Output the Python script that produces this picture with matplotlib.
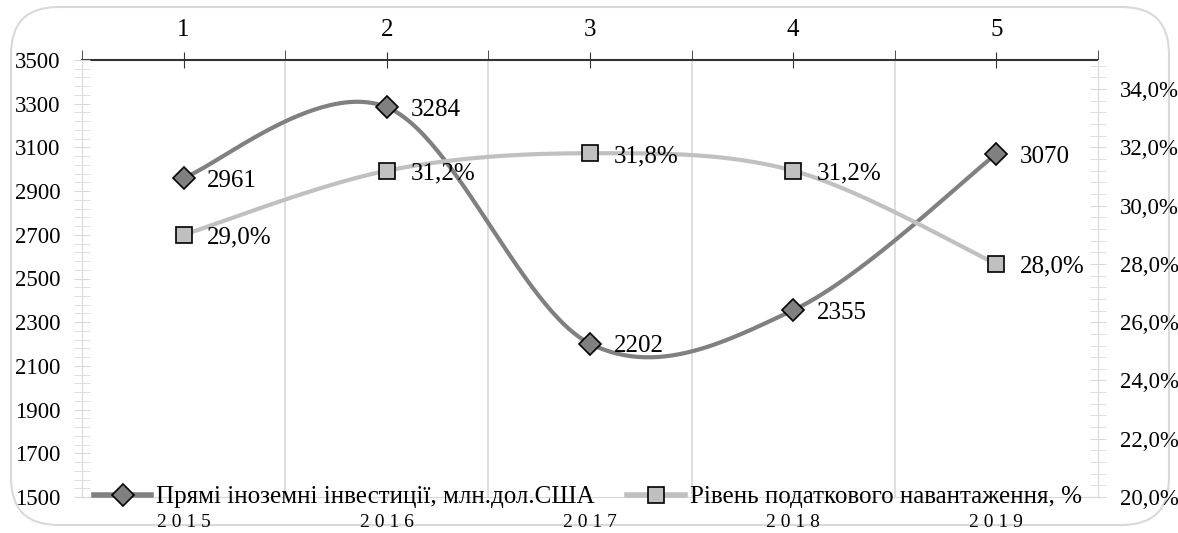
import numpy as np
import matplotlib
matplotlib.use('Agg')
import matplotlib.pyplot as plt
from matplotlib.patches import FancyBboxPatch
from matplotlib.lines import Line2D
from matplotlib.ticker import FuncFormatter

# Data
years = ['2015', '2016', '2017', '2018', '2019']
top_labels = ['1', '2', '3', '4', '5']
fdi = [2961, 3284, 2202, 2355, 3070]          # млн.дол.США
tax_burden = [29.0, 31.2, 31.8, 31.2, 28.0]   # %
fdi_name = 'Прямі іноземні інвестиції, млн.дол.США'
tax_name = 'Рівень податкового навантаження, %'

FONT = 'Liberation Serif'
plt.rcParams['font.family'] = [FONT, 'DejaVu Serif']

DARK = '#808080'
LIGHT = '#c0c0c0'
GRID = '#d9d9d9'


def smooth(x, y, n=60):
    # Catmull-Rom style bezier smoothing, like office charts do
    x = np.asarray(x, float)
    y = np.asarray(y, float)
    xs, ys = [], []
    for i in range(len(x) - 1):
        i0 = max(i - 1, 0)
        i3 = min(i + 2, len(x) - 1)
        p0 = np.array([x[i], y[i]])
        p3 = np.array([x[i + 1], y[i + 1]])
        c1 = p0 + (np.array([x[i + 1], y[i + 1]]) - np.array([x[i0], y[i0]])) / 6
        c2 = p3 - (np.array([x[i3], y[i3]]) - np.array([x[i], y[i]])) / 6
        t = np.linspace(0, 1, n)[:, None]
        pts = ((1 - t) ** 3) * p0 + 3 * ((1 - t) ** 2) * t * c1 + 3 * (1 - t) * t ** 2 * c2 + t ** 3 * p3
        xs.extend(pts[:, 0])
        ys.extend(pts[:, 1])
    return np.array(xs), np.array(ys)


W, H = 1178, 533
fig = plt.figure(figsize=(W / 100, H / 100), dpi=100)

# rounded chart frame
frame = FancyBboxPatch((11 / W, 8 / H), 1158 / W, 518 / H,
                       boxstyle='round,pad=0,rounding_size=0.04',
                       transform=fig.transFigure, facecolor='none',
                       edgecolor=GRID, linewidth=1.5, mutation_aspect=W / H, zorder=-1)
fig.patches.append(frame)

ax = fig.add_axes([82 / W, 1 - 497 / H, 1016 / W, 437 / H])
ax.patch.set_alpha(0)
x = np.arange(len(years))
ax.set_xlim(-0.5, 4.5)
ax.set_ylim(1500, 3500)

# vertical grid at category boundaries
for b in x[:-1] + 0.5:
    ax.axvline(b, color=GRID, lw=1.2, zorder=0)

ax2 = ax.twinx()
ax2.set_ylim(20, 35)

# series
sx, sy = smooth(x, fdi)
ax.plot(sx, sy, color=DARK, lw=3, solid_capstyle='round', zorder=3)
ax.plot(x, fdi, ls='none', marker='D', ms=11, mfc=DARK, mec='black', mew=1.2, zorder=4)
tx, ty = smooth(x, tax_burden)
ax2.plot(tx, ty, color=LIGHT, lw=3, solid_capstyle='round', zorder=3)
ax2.plot(x, tax_burden, ls='none', marker='s', ms=12, mfc=LIGHT, mec='black', mew=1.2, zorder=4)

for xi, v in zip(x, fdi):
    ax.annotate(str(v), (xi, v), xytext=(17, -2), textcoords='offset points',
                ha='left', va='center', fontsize=18, family=FONT)
for xi, v in zip(x, tax_burden):
    ax2.annotate(f'{v:.1f}%'.replace('.', ','), (xi, v), xytext=(17, -2),
                 textcoords='offset points', ha='left', va='center', fontsize=18, family=FONT)

# left axis
for s in ['top', 'right']:
    ax.spines[s].set_visible(False)
ax.spines['left'].set_color(GRID)
ax.spines['bottom'].set_color(GRID)
ax.set_yticks(np.arange(1500, 3501, 200))
ax.set_yticks(np.arange(1500, 3501, 40), minor=True)
ax.tick_params(axis='y', which='both', direction='inout', length=11, color=GRID,
               labelsize=16.5, pad=10)
ax.set_xticks(x)
ax.set_xticklabels([' '.join(y) for y in years])
ax.tick_params(axis='x', direction='inout', length=6, color=GRID, labelsize=14, pad=9)

# right axis
for s in ['top', 'left', 'bottom']:
    ax2.spines[s].set_visible(False)
ax2.spines['right'].set_color(GRID)
ax2.set_yticks(np.arange(20, 35, 2))
ax2.set_yticks(np.arange(20, 35.01, 0.4), minor=True)
ax2.yaxis.set_major_formatter(FuncFormatter(lambda v, p: f'{v:.1f}%'.replace('.', ',')))
ax2.tick_params(axis='y', which='both', direction='inout', length=11, color=GRID,
                labelsize=16.5, pad=10)

# top axis with category numbers
top = ax.secondary_xaxis('top')
top.set_xticks(x)
top.set_xticklabels(top_labels)
top.set_xticks(np.arange(-0.5, 5, 1), minor=True)
top.spines['top'].set_color('#333333')
top.spines['top'].set_linewidth(1.5)
top.tick_params(which='major', direction='inout', length=12, color='#333333', labelsize=18, pad=8)
top.tick_params(which='minor', direction='out', length=7, color='#333333')

for lbl in ax.get_xticklabels() + ax.get_yticklabels() + ax2.get_yticklabels() + top.get_xticklabels():
    lbl.set_family(FONT)

handles = [Line2D([], [], color=DARK, lw=4, marker='D', ms=11, mfc=DARK, mec='black', mew=1.2),
           Line2D([], [], color=LIGHT, lw=4, marker='s', ms=12, mfc=LIGHT, mec='black', mew=1.2)]
fig.legend(handles, [fdi_name, tax_name], loc='center', bbox_to_anchor=(0.499, 36 / H),
           ncol=2, frameon=False, prop={'family': FONT, 'size': 18}, handlelength=2.3,
           columnspacing=1.3, handletextpad=0.2, borderpad=0)

fig.savefig('out.png', dpi=100)
